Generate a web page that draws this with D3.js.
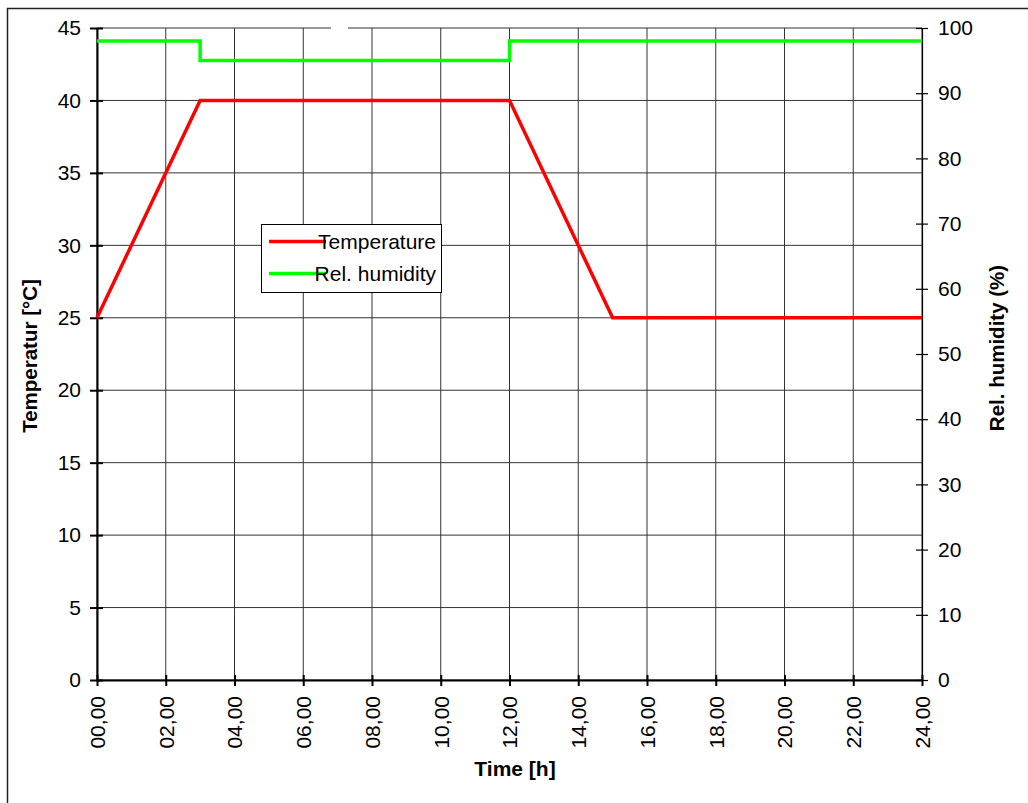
<!DOCTYPE html>
<html><head><meta charset="utf-8">
<script src="https://cdn.jsdelivr.net/npm/d3@7"></script>
<style>body{margin:0;background:#fff}svg{display:block}text{font-family:"Liberation Sans",Arial,sans-serif}</style>
</head><body>
<svg id="c" width="1028" height="803"></svg>
<script>
// Data
const timeTicks = [0,2,4,6,8,10,12,14,16,18,20,22,24];
const timeTickLabels = ["00,00","02,00","04,00","06,00","08,00","10,00","12,00","14,00","16,00","18,00","20,00","22,00","24,00"];
const tempTicks = [0,5,10,15,20,25,30,35,40,45];
const humTicks = [0,10,20,30,40,50,60,70,80,90,100];
const tempTime = [0,3,12,15,24];
const tempValues = [25,40,40,25,25];
const humTime = [0,3,12,24];
const humValues = [98,95,98,98];

const svg = d3.select("#c");
const L=97, R=922, T=28, B=680;
const x = d3.scaleLinear().domain([0,24]).range([L,R]);
const yT = d3.scaleLinear().domain([0,45]).range([B,T]);
const yH = d3.scaleLinear().domain([0,100]).range([B,T]);

// outer border
svg.append("rect").attr("x",7.5).attr("y",8.5).attr("width",1040).attr("height",820)
  .attr("fill","none").attr("stroke","#222").attr("stroke-width",1.5);

// grid
const g = svg.append("g");
g.selectAll(".vg").data(timeTicks).join("line")
  .attr("x1",d=>x(d)).attr("x2",d=>x(d)).attr("y1",T).attr("y2",B)
  .attr("stroke","#333").attr("stroke-width",1);
g.selectAll(".hg").data(tempTicks).join("line")
  .attr("x1",L).attr("x2",R).attr("y1",d=>yT(d)).attr("y2",d=>yT(d))
  .attr("stroke","#333").attr("stroke-width",1);
// small gap in top gridline
svg.append("rect").attr("x",331).attr("y",25).attr("width",17).attr("height",6).attr("fill","#fff");

// axes
const fs = 21;
const left = svg.append("g").attr("transform",`translate(${L},0)`)
  .call(d3.axisLeft(yT).tickValues(tempTicks).tickSize(6).tickSizeOuter(0).tickFormat(d3.format("d")));
left.select(".domain").attr("stroke","#000").attr("stroke-width",2);
left.selectAll(".tick line").attr("x2",6).attr("x1",-7).attr("stroke","#000").attr("stroke-width",2);
left.selectAll(".tick text").attr("x",-16).attr("font-size",fs).attr("fill","#000").attr("font-family","Liberation Sans, Arial, sans-serif");

const right = svg.append("g").attr("transform",`translate(${R},0)`)
  .call(d3.axisRight(yH).tickValues(humTicks).tickSize(6).tickSizeOuter(0).tickFormat(d3.format("d")));
right.select(".domain").attr("stroke","#000").attr("stroke-width",1.2);
right.selectAll(".tick line").attr("x1",-6).attr("x2",6).attr("stroke","#000").attr("stroke-width",1.2);
right.selectAll(".tick text").attr("x",16).attr("font-size",fs).attr("fill","#000").attr("font-family","Liberation Sans, Arial, sans-serif");

const bottom = svg.append("g").attr("transform",`translate(0,${B})`)
  .call(d3.axisBottom(x).tickValues(timeTicks).tickSize(6).tickSizeOuter(0).tickFormat((d,i)=>timeTickLabels[i]));
bottom.select(".domain").attr("stroke","#000").attr("stroke-width",2);
bottom.selectAll(".tick line").attr("y1",-5).attr("y2",6).attr("stroke","#000").attr("stroke-width",2);
bottom.selectAll(".tick text").attr("transform","rotate(-90)").attr("x",-16).attr("y",0).attr("dy","0.35em")
  .attr("text-anchor","end").attr("font-size",fs).attr("fill","#000").attr("font-family","Liberation Sans, Arial, sans-serif");

// lines
const tempData = tempTime.map((t,i)=>[t,tempValues[i]]);
const humData = humTime.map((t,i)=>[t,humValues[i]]);
svg.append("path").attr("d",d3.line().x(d=>x(d[0])).y(d=>yH(d[1])).curve(d3.curveStepAfter)(humData))
  .attr("fill","none").attr("stroke","#00ff00").attr("stroke-width",3.5);
svg.append("path").attr("d",d3.line().x(d=>x(d[0])).y(d=>yT(d[1]))(tempData))
  .attr("fill","none").attr("stroke","#ff0000").attr("stroke-width",3.5);

// axis titles
svg.append("text").attr("transform","translate(37,356) rotate(-90)").attr("text-anchor","middle")
  .attr("font-size",20.5).attr("font-weight","bold").text("Temperatur [°C]");
svg.append("text").attr("transform","translate(1004,348) rotate(-90)").attr("text-anchor","middle")
  .attr("font-size",20.5).attr("font-weight","bold").text("Rel. humidity (%)");
svg.append("text").attr("x",515).attr("y",776).attr("text-anchor","middle")
  .attr("font-size",21).attr("font-weight","bold").text("Time [h]");

// legend
const lg = svg.append("g");
lg.append("rect").attr("x",261.5).attr("y",224.5).attr("width",180).attr("height",68)
  .attr("fill","#fff").attr("stroke","#000").attr("stroke-width",1);
const legItems = [{label:"Temperature",color:"#ff0000",y:241.5},{label:"Rel. humidity",color:"#00ff00",y:273.5}];
legItems.forEach(it=>{
  lg.append("line").attr("x1",269).attr("x2",326).attr("y1",it.y).attr("y2",it.y)
    .attr("stroke",it.color).attr("stroke-width",3.5);
  lg.append("text").attr("x",436).attr("y",it.y).attr("dy","0.35em").attr("text-anchor","end")
    .attr("font-size",fs).text(it.label);
});
</script>
</body></html>
